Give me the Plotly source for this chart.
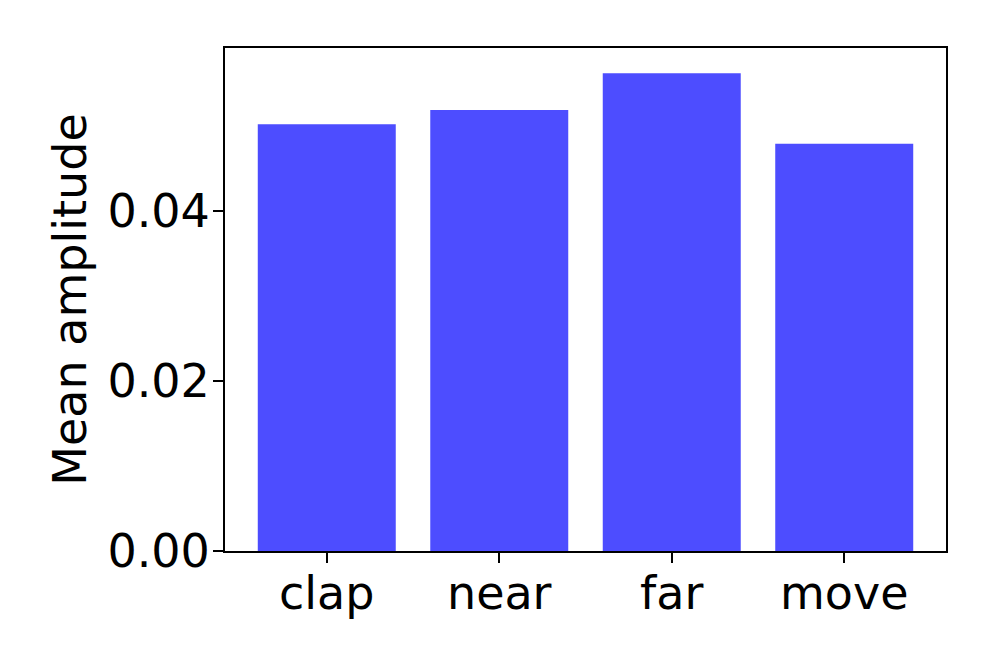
import plotly.graph_objects as go

categories = ["clap", "near", "far", "move"]
mean_amplitude = [0.0502, 0.0519, 0.0562, 0.0479]

fig = go.Figure()
fig.add_trace(go.Bar(
    x=categories,
    y=mean_amplitude,
    marker=dict(color="#4d4dff", line=dict(width=0)),
    width=0.8,
))

fig.update_layout(
    width=996,
    height=664,
    margin=dict(l=217, r=58, t=40, b=121),
    plot_bgcolor="white",
    paper_bgcolor="white",
    font=dict(family="DejaVu Sans", size=46, color="black"),
    showlegend=False,
    xaxis=dict(
        range=[-0.59, 3.59],
        showline=True, linecolor="black", linewidth=2, mirror=True,
        ticks="outside", ticklen=10, tickwidth=2, tickcolor="black",
        ticklabelstandoff=-9,
        showgrid=False,
    ),
    yaxis=dict(
        range=[0, 0.05918],
        tickvals=[0, 0.02, 0.04],
        tickformat=".2f",
        showline=True, linecolor="black", linewidth=2, mirror=True,
        ticks="outside", ticklen=10, tickwidth=2, tickcolor="black",
        ticklabelstandoff=-6,
        showgrid=False, zeroline=False,
        title=dict(text="Mean amplitude", standoff=6, font=dict(size=46)),
    ),
)

fig.write_html("out.html")
